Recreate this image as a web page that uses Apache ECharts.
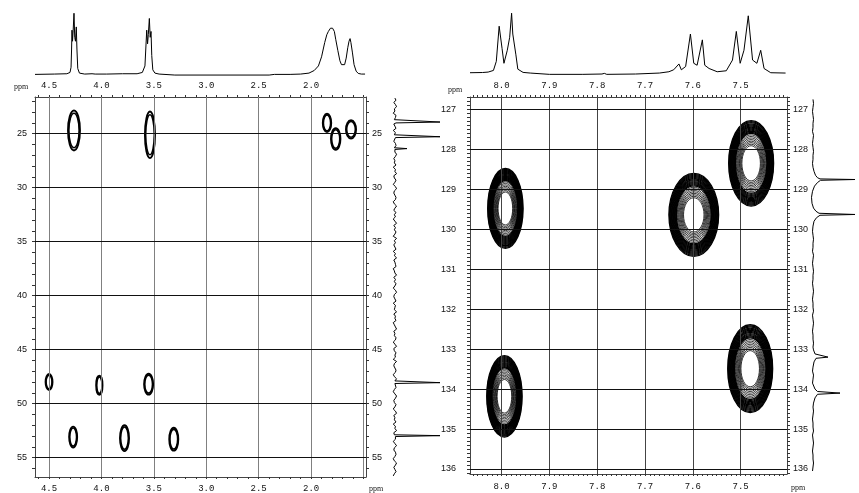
<!DOCTYPE html>
<html><head><meta charset="utf-8">
<script src="https://cdn.jsdelivr.net/npm/echarts@6/dist/echarts.min.js"></script>
<style>html,body{margin:0;padding:0;background:#fff}#c{width:859px;height:493px}</style>
</head><body><div id="c"></div>
<script>
// ---------------- data ----------------
// tick labels
const hTicksL = [4.5, 4.0, 3.5, 3.0, 2.5, 2.0];
const cTicksL = [25, 30, 35, 40, 45, 50, 55];
const hTicksR = [8.0, 7.9, 7.8, 7.7, 7.6, 7.5];
const cTicksR = [127, 128, 129, 130, 131, 132, 133, 134, 135, 136];

// HSQC cross peaks: [1H ppm, 13C ppm, 1H half-width, 13C half-width]
const peaksL = [
  [4.262, 24.7, 0.057, 1.85],
  [3.537, 25.1, 0.048, 2.15],
  [1.848, 24.0, 0.040, 0.85],
  [1.765, 25.5, 0.045, 1.0],
  [1.619, 24.6, 0.048, 0.85],
  [4.500, 48.0, 0.033, 0.74],
  [4.020, 48.3, 0.030, 0.88],
  [3.550, 48.2, 0.043, 0.97],
  [4.270, 53.1, 0.038, 0.97],
  [3.780, 53.2, 0.043, 1.2],
  [3.310, 53.3, 0.043, 1.06]
];
const peaksR = [
  [7.992, 129.48, 0.037, 1.0],
  [7.598, 129.64, 0.052, 1.04],
  [7.478, 128.35, 0.047, 1.07],
  [7.994, 134.18, 0.037, 1.02],
  [7.480, 133.49, 0.047, 1.1]
];

// 1H projections: [ppm, intensity]
const projHL = [[4.634,1],[4.45,1.5],[4.33,2],[4.30,4],[4.29,12],[4.285,40],[4.281,69],[4.276,52],[4.270,68],[4.262,95],[4.255,58],[4.248,52],[4.240,74],[4.234,40],[4.226,10],[4.21,3],[4.16,1.5],[4.09,2],[4.075,3.5],[4.06,1.5],[3.95,1.5],[3.80,2],[3.66,2],[3.61,4],[3.585,14],[3.568,69],[3.560,48],[3.553,62],[3.543,87],[3.535,58],[3.527,67],[3.520,30],[3.51,8],[3.49,3],[3.45,1.5],[3.30,0],[2.40,0],[2.35,1],[2.20,1],[2.10,1.5],[2.02,3],[1.97,7],[1.93,14],[1.90,28],[1.87,50],[1.850,62],[1.835,67],[1.825,70],[1.815,72],[1.810,74],[1.803,70],[1.795,72],[1.778,67],[1.765,55],[1.745,38],[1.725,22],[1.71,16],[1.695,13],[1.68,16],[1.665,26],[1.65,42],[1.638,52],[1.628,56],[1.62,50],[1.605,34],[1.59,16],[1.57,6],[1.55,2.5],[1.52,1.5],[1.485,1.5]];
const projHR = [[8.066,0.5],[8.04,0.8],[8.028,1.5],[8.017,4],[8.011,18],[8.005,72],[7.999,38],[7.995,15],[7.988,35],[7.983,55],[7.979,92],[7.9765,60],[7.973,63],[7.970,28],[7.966,6],[7.955,1],[7.94,0],[7.90,-2],[7.83,-2],[7.79,-1.5],[7.785,-0.5],[7.78,-2],[7.72,-1.5],[7.67,0],[7.65,2],[7.640,5],[7.629,14],[7.624,5],[7.615,10],[7.605,60],[7.598,15],[7.591,12],[7.580,51],[7.575,12],[7.566,7],[7.549,2],[7.53,3.5],[7.517,20],[7.509,64],[7.501,15],[7.493,35],[7.484,88],[7.475,20],[7.466,15],[7.458,35],[7.451,7],[7.437,0.5],[7.406,0]];

// 13C projections: baseline samples (start ppm, step) + peak shapes [ppm, intensity]
const c13StartL = 21.7, c13StepL = 0.2;
const c13NoiseL = [18,20,16,19,21,17,18,15,20,19,17,21,16,18,20,15,19,17,21,18,16,19,20,17,15,18,21,19,16,18,17,20,15,19,18,21,16,17,20,18,15,19,21,17,16,18,20,19,15,17,21,18,16,20,17,19,15,18,21,16,19,17,20,18,15,21,17,19,16,18,20,15,19,17,21,16,18,19,20,15,17,18,21,16,19,17,20,18,15,19,21,17,16,18,20,15,19,18,17,21,16,19,18,20,15,17,19,21,16,18,17,20,19,15,18,21,16,17,20,18,19,15,21,17,16,18,20,19,15,17,21,18,16,19,20,17,15,18,21,19,16,17,20,18,15,19,21,16,18,17,20,15,19,18,21,16,17,20,19,15,18,21,17,16,19,20,18,15,17,21,19,16,18,20,17,15];
const c13PeaksL = [
  [[23.84,19],[23.92,100],[24.0,20]],
  [[25.2,18],[25.28,100],[25.36,19]],
  [[26.3,17],[26.38,40],[26.46,18]],
  [[47.98,19],[48.06,100],[48.14,18]],
  [[52.89,17],[52.97,100],[53.05,19]]
];
const c13StartR = 126.75, c13StepR = 0.1;
const c13NoiseR = [16,17,16,15,16,17,16,16,15,17,16,15,16,17,16,16,15,16,17,16,15,16,16,17,15,16,17,16,15,16,16,17,16,15,16,17,16,16,15,17,16,15,16,17,16,16,15,16,17,16,15,16,16,17,15,16,17,16,15,16,16,17,16,15,16,17,16,16,15,17,16,15,16,17,16,16,15,16,17,16,15,16,16,17,15,16,17,16,15,16,16,17,16,15];
const c13PeaksR = [
  [[128.55,18],[128.65,21],[128.71,25],[128.74,30],[128.755,100],[128.775,31],[128.83,25],[128.92,19],[129.05,15],[129.2,13],[129.35,14],[129.47,17],[129.55,22],[129.6,28],[129.63,100],[129.65,30],[129.71,23],[129.8,18],[129.92,16]],
  [[133.02,17],[133.12,20],[133.17,24],[133.2,46],[133.23,22],[133.32,18]],
  [[133.9,17],[134.0,20],[134.06,25],[134.1,70],[134.13,25],[134.22,20],[134.35,17]]
];

// ---------------- chart ----------------
const L = {xmin: 1.476, xmax: 4.634, ymin: 21.6, ymax: 56.8};
const R = {xmin: 7.403, xmax: 8.066, ymin: 126.69, ymax: 136.125};

function steps(a, b, d) {
  const out = []; const n = Math.round((b - a) / d);
  for (let i = 0; i <= n; i++) out.push(Math.round((a + i * d) * 1000) / 1000);
  return out;
}
function buildTrace(start, step, noise, groups) {
  const pts = [];
  noise.forEach((v, i) => {
    const p = Math.round((start + i * step) * 1000) / 1000;
    if (!groups.some(g => p >= g[0][0] - 0.03 && p <= g[g.length - 1][0] + 0.03)) pts.push([p, v]);
  });
  groups.forEach(g => g.forEach(q => pts.push(q)));
  pts.sort((a, b) => a[0] - b[0]);
  return pts.map(q => [q[1], q[0]]);
}

const monoFont = 'Liberation Mono';
const sansFont = 'Liberation Sans';

function frameAxis(o) {
  return Object.assign({
    type: 'value',
    axisLine: {show: true, onZero: false, lineStyle: {color: '#444', width: 1}},
    axisTick: {show: true, inside: false, length: 2, lineStyle: {color: '#333', width: 1}},
    axisLabel: {show: true, color: '#111', fontSize: 9},
    splitLine: {show: false}
  }, o);
}
function hideAxis(o) {
  return Object.assign({type: 'value', show: false, splitLine: {show: false}}, o);
}

const fmt1 = v => v.toFixed(1);
const fmt0 = v => String(Math.round(v));

const xAxes = [
  frameAxis({gridIndex: 0, position: 'top', inverse: true, min: L.xmin, max: L.xmax,
    axisTick: {show: true, length: 2, customValues: steps(1.5, 4.6, 0.1), lineStyle: {color: '#333'}},
    axisLabel: {show: true, customValues: hTicksL, formatter: fmt1, margin: 7, fontFamily: monoFont, fontSize: 9, color: '#111'}}),
  frameAxis({gridIndex: 0, position: 'bottom', inverse: true, min: L.xmin, max: L.xmax,
    axisTick: {show: true, length: 2, customValues: steps(1.5, 4.6, 0.1), lineStyle: {color: '#333'}},
    axisLabel: {show: true, customValues: hTicksL, formatter: fmt1, margin: 7, fontFamily: monoFont, fontSize: 9, color: '#111'}}),
  hideAxis({gridIndex: 1, inverse: true, min: L.xmin, max: L.xmax}),
  hideAxis({gridIndex: 2, min: 0, max: 100}),
  frameAxis({gridIndex: 3, position: 'top', inverse: true, min: R.xmin, max: R.xmax,
    axisTick: {show: true, length: 2, customValues: steps(7.41, 8.06, 0.01), lineStyle: {color: '#333'}},
    axisLabel: {show: true, customValues: hTicksR, formatter: fmt1, margin: 7, fontFamily: monoFont, fontSize: 9, color: '#111'}}),
  frameAxis({gridIndex: 3, position: 'bottom', inverse: true, min: R.xmin, max: R.xmax,
    axisTick: {show: true, length: 2, customValues: steps(7.41, 8.06, 0.01), lineStyle: {color: '#333'}},
    axisLabel: {show: true, customValues: hTicksR, formatter: fmt1, margin: 8, fontFamily: monoFont, fontSize: 9, color: '#111'}}),
  hideAxis({gridIndex: 4, inverse: true, min: R.xmin, max: R.xmax}),
  hideAxis({gridIndex: 5, min: 0, max: 100})
];
const yAxes = [
  frameAxis({gridIndex: 0, position: 'left', inverse: true, min: L.ymin, max: L.ymax,
    axisTick: {show: true, length: 3, customValues: steps(22, 56, 1), lineStyle: {color: '#333'}},
    axisLabel: {show: true, customValues: cTicksL, formatter: fmt0, margin: 8, fontFamily: sansFont, fontSize: 9, color: '#111'}}),
  frameAxis({gridIndex: 0, position: 'right', inverse: true, min: L.ymin, max: L.ymax,
    axisTick: {show: true, length: 3, customValues: steps(22, 56, 1), lineStyle: {color: '#333'}},
    axisLabel: {show: true, customValues: cTicksL, formatter: fmt0, margin: 6, fontFamily: sansFont, fontSize: 9, color: '#111'}}),
  hideAxis({gridIndex: 1, min: -3, max: 100}),
  hideAxis({gridIndex: 2, inverse: true, min: L.ymin, max: L.ymax}),
  frameAxis({gridIndex: 3, position: 'left', inverse: true, min: R.ymin, max: R.ymax,
    axisTick: {show: true, length: 3, customValues: steps(126.7, 136.1, 0.1), lineStyle: {color: '#333'}},
    axisLabel: {show: true, customValues: cTicksR, formatter: fmt0, margin: 14, fontFamily: sansFont, fontSize: 9, color: '#111'}}),
  frameAxis({gridIndex: 3, position: 'right', inverse: true, min: R.ymin, max: R.ymax,
    axisTick: {show: true, length: 3, customValues: steps(126.7, 136.1, 0.1), lineStyle: {color: '#333'}},
    axisLabel: {show: true, customValues: cTicksR, formatter: fmt0, margin: 6, fontFamily: sansFont, fontSize: 9, color: '#111'}}),
  hideAxis({gridIndex: 4, min: -3, max: 100}),
  hideAxis({gridIndex: 5, inverse: true, min: R.ymin, max: R.ymax})
];

// rings: [scale, lineWidth]
function contourRender(rings) {
  return function (params, api) {
    const c = api.coord([api.value(0), api.value(1)]);
    const s = api.size([api.value(2), api.value(3)]);
    return {
      type: 'group',
      children: rings.map(r => ({
        type: 'ellipse',
        shape: {cx: c[0], cy: c[1], rx: s[0] * r[0], ry: s[1] * r[0]},
        style: {fill: 'none', stroke: '#000', lineWidth: r[1]}
      }))
    };
  };
}
const ringsL = [[1.0, 1.9], [0.86, 1.6]];
const ringsR = steps(0, 12, 1).map(i => [1 - i * 0.025, 1.3])
  .concat(steps(1, 8, 1).map(i => [0.7 - i * 0.036, 0.8]));

function gridLines(vVals, hVals, vColor, hColor) {
  return {
    silent: true, symbol: ['none', 'none'], animation: false,
    label: {show: false}, emphasis: {disabled: true},
    data: vVals.map(v => ({xAxis: v, lineStyle: {color: vColor, width: 1, type: 'solid'}}))
      .concat(hVals.map(v => ({yAxis: v, lineStyle: {color: hColor, width: 1, type: 'solid'}})))
  };
}

const lineStyle = {color: '#000', width: 1};
const option = {
  backgroundColor: '#fff',
  animation: false,
  grid: [
    {left: 35, top: 97, width: 331, height: 380, outerBoundsMode: 'none'},
    {left: 35, top: 10, width: 331, height: 67, outerBoundsMode: 'none'},
    {left: 385, top: 97, width: 55, height: 380, outerBoundsMode: 'none'},
    {left: 470, top: 97, width: 317, height: 377, outerBoundsMode: 'none'},
    {left: 470, top: 8, width: 317, height: 67, outerBoundsMode: 'none'},
    {left: 805, top: 97, width: 50, height: 377, outerBoundsMode: 'none'}
  ],
  xAxis: xAxes,
  yAxis: yAxes,
  graphic: [
    {type: 'text', x: 21, y: 87, style: {text: 'ppm', font: '8px "Liberation Serif"', fill: '#222', align: 'center', verticalAlign: 'middle'}},
    {type: 'text', x: 376, y: 489, style: {text: 'ppm', font: '8px "Liberation Serif"', fill: '#222', align: 'center', verticalAlign: 'middle'}},
    {type: 'text', x: 455, y: 90, style: {text: 'ppm', font: '8px "Liberation Serif"', fill: '#222', align: 'center', verticalAlign: 'middle'}},
    {type: 'text', x: 798, y: 488, style: {text: 'ppm', font: '8px "Liberation Serif"', fill: '#222', align: 'center', verticalAlign: 'middle'}}
  ],
  series: [
    {type: 'custom', xAxisIndex: 0, yAxisIndex: 0, data: peaksL, silent: true,
      renderItem: contourRender(ringsL),
      markLine: gridLines(hTicksL.concat([1.5]), cTicksL, '#808080', '#111')},
    {type: 'line', xAxisIndex: 2, yAxisIndex: 2, data: projHL, symbol: 'none', lineStyle: lineStyle, silent: true},
    {type: 'line', xAxisIndex: 3, yAxisIndex: 3, data: buildTrace(c13StartL, c13StepL, c13NoiseL, c13PeaksL), symbol: 'none', lineStyle: lineStyle, silent: true},
    {type: 'custom', xAxisIndex: 4, yAxisIndex: 4, data: peaksR, silent: true,
      renderItem: contourRender(ringsR),
      markLine: gridLines(hTicksR, cTicksR, '#444', '#111')},
    {type: 'line', xAxisIndex: 6, yAxisIndex: 6, data: projHR, symbol: 'none', lineStyle: lineStyle, silent: true},
    {type: 'line', xAxisIndex: 7, yAxisIndex: 7, data: buildTrace(c13StartR, c13StepR, c13NoiseR, c13PeaksR), symbol: 'none', lineStyle: lineStyle, silent: true}
  ]
};
const chart = echarts.init(document.getElementById('c'), null, {renderer: 'canvas', width: 859, height: 493});
chart.setOption(option);
</script>
</body></html>
